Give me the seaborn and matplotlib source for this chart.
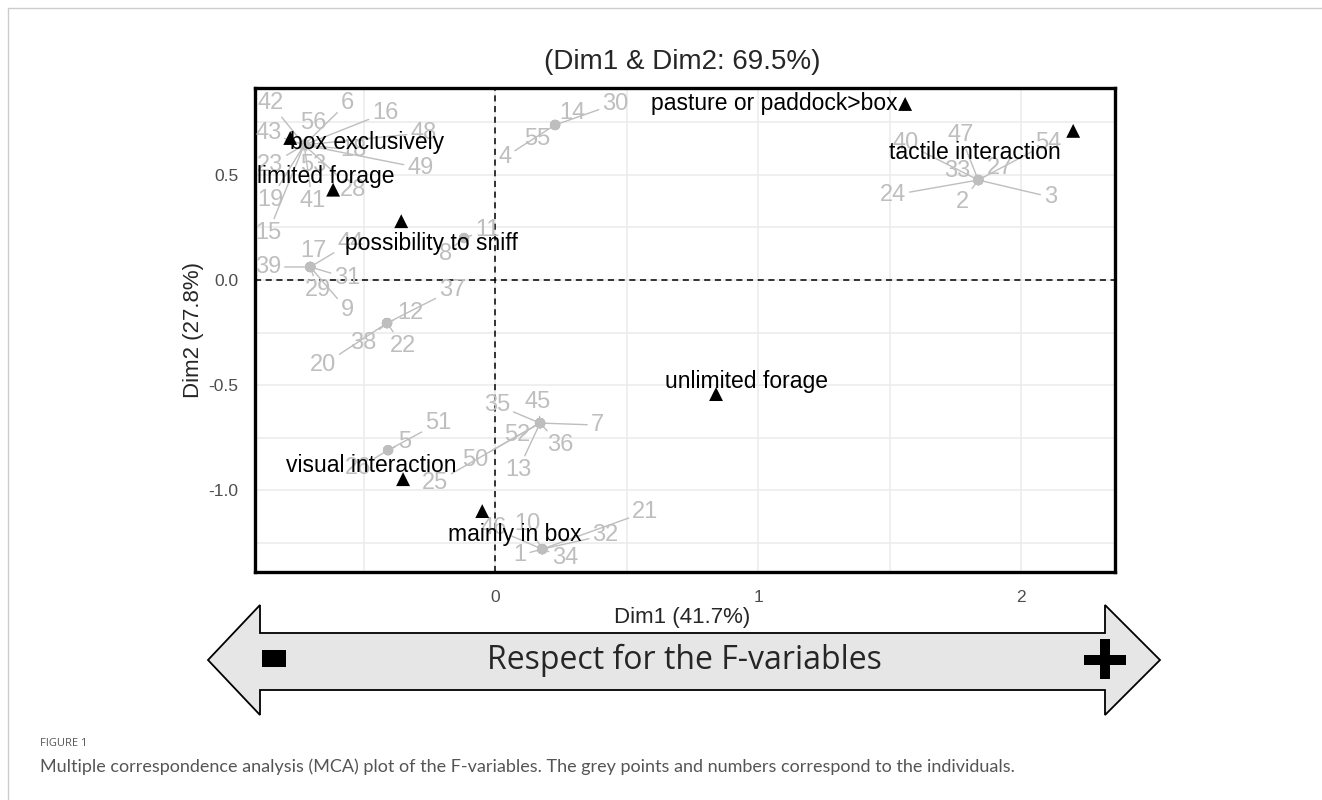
import numpy as np
import pandas as pd
import matplotlib
matplotlib.use("Agg")
import matplotlib.pyplot as plt
import seaborn as sns
from matplotlib.patches import Polygon, Rectangle
from matplotlib.lines import Line2D

# Individuos (coordenadas MCA)
ind_id = ["42", "6", "16", "56", "43", "48", "18", "23", "53", "49", "19", "41", "28", "15",
          "17", "39", "29", "31", "9", "44",
          "11", "8",
          "12", "37", "38", "22", "20",
          "14", "30", "55", "4",
          "40", "47", "33", "27", "54", "24", "2", "3",
          "35", "45", "7", "52", "36", "13", "50", "25",
          "5", "51", "26",
          "10", "46", "32", "21", "1", "34"]
ind_dim1 = [-0.726] * 14 + [-0.703] * 6 + [-0.118] * 2 + [-0.411] * 5 + [0.228] * 4 \
    + [1.837] * 8 + [0.171] * 8 + [-0.407] * 3 + [0.179] * 6
ind_dim2 = [0.643] * 14 + [0.062] * 6 + [0.200] * 2 + [-0.205] * 5 + [0.738] * 4 \
    + [0.476] * 8 + [-0.681] * 8 + [-0.810] * 3 + [-1.281] * 6

# Categorias das variaveis
cat_names = ["box exclusively", "limited forage", "possibility to sniff",
             "pasture or paddock>box", "tactile interaction", "unlimited forage",
             "visual interaction", "mainly in box"]
cat_dim1 = [-0.779, -0.616, -0.357, 1.559, 2.198, 0.840, -0.350, -0.049]
cat_dim2 = [0.676, 0.430, 0.280, 0.838, 0.710, -0.543, -0.948, -1.100]

# deslocamento dos rotulos (pixels), estilo ggrepel
ind_dx = [-34, 43, 81, 9, -36, 119, 49, -34, 9, 116, -34, 8, 49, -36,
          3, -42, 8, 37, 37, 40,
          23, -19,
          23, 65, -24, 16, -64,
          17, 60, -18, -50,
          -73, -18, -21, 22, 70, -85, -16, 72,
          -43, -2, 57, -23, 20, -22, -65, -105,
          17, 50, -30,
          -15, -49, 63, 103, -22, 23]
ind_dy = [42, 42, 32, 22, 12, 12, -5, -20, -20, -23, -55, -56, -45, -88,
          16, 0, -23, -11, -43, 24,
          8, -16,
          10, 33, -20, -23, -42,
          12, 21, -14, -32,
          37, 45, 9, 12, 37, -15, -22, -17,
          18, 21, -2, -12, -22, -47, -37, -60,
          8, 27, -18,
          25, 21, 14, 37, -6, -9]
cat_dx = [77, -7, 30, -131, -98, 30, -32, 33]
cat_dy = [-5, 13, -22, 0, -22, 13, 14, -23]

df_ind = pd.DataFrame({"id": ind_id, "Dim1": ind_dim1, "Dim2": ind_dim2})
df_cat = pd.DataFrame({"cat": cat_names, "Dim1": cat_dim1, "Dim2": cat_dim2})

W, H = 1322, 800
sns.set_theme(style="white")
plt.rcParams["font.family"] = ["Liberation Sans", "DejaVu Sans"]

fig = plt.figure(figsize=(W / 100, H / 100), dpi=100)
fig.patch.set_facecolor("white")

def fx(px):
    return px / W

def fy(py):
    return 1 - py / H

ax = fig.add_axes([fx(255), fy(572), fx(1115) - fx(255), fy(88) - fy(572)])
ax.set_xlim(-0.913, 2.357)
ax.set_ylim(-1.39, 0.914)

# grade
ax.set_xticks([0, 1, 2])
ax.set_xticks([-0.5, 0.5, 1.5], minor=True)
ax.set_yticks([-1.0, -0.5, 0.0, 0.5])
ax.set_yticks([-1.25, -0.75, -0.25, 0.25, 0.75], minor=True)
ax.set_xticklabels(["0", "1", "2"])
ax.set_yticklabels(["-1.0", "-0.5", "0.0", "0.5"])
ax.grid(True, which="both", color="#EBEBEB", lw=1.1)
ax.set_axisbelow(True)
ax.tick_params(which="both", length=0, labelsize=12.5, labelcolor="#4D4D4D")
ax.tick_params(axis="x", pad=13)
ax.tick_params(axis="y", pad=12)
for s in ax.spines.values():
    s.set_color("black")
    s.set_linewidth(2.4)

ax.axhline(0, color="black", ls=(0, (4, 3)), lw=1.1, zorder=2)
ax.axvline(0, color="black", ls=(0, (4, 3)), lw=1.1, zorder=2)

# individuos
sns.scatterplot(data=df_ind, x="Dim1", y="Dim2", color="#BEBEBE", s=55,
                edgecolor="none", ax=ax, zorder=3, legend=False)
for i, row in df_ind.iterrows():
    ax.annotate(row["id"], xy=(row["Dim1"], row["Dim2"]),
                xytext=(ind_dx[i], ind_dy[i]), textcoords="offset pixels",
                ha="center", va="center", color="#BEBEBE", fontsize=17, zorder=4,
                arrowprops=dict(arrowstyle="-", color="#BEBEBE", lw=1,
                                shrinkA=0, shrinkB=0))

# categorias
sns.scatterplot(data=df_cat, x="Dim1", y="Dim2", color="black", marker="^", s=100,
                edgecolor="none", ax=ax, zorder=5, legend=False)
for i, row in df_cat.iterrows():
    ax.annotate(row["cat"], xy=(row["Dim1"], row["Dim2"]),
                xytext=(cat_dx[i], cat_dy[i]), textcoords="offset pixels",
                ha="center", va="center", color="black", fontsize=16.5, zorder=6)

ax.set_xlabel("")
ax.set_ylabel("")
fig.text(fx(682), fy(617), "Dim1 (41.7%)", ha="center", va="center", fontsize=16)
fig.text(fx(193), fy(330), "Dim2 (27.8%)", ha="center", va="center", fontsize=16,
         rotation=90)
fig.text(fx(682), fy(62), "(Dim1 & Dim2: 69.5%)", ha="center", va="center", fontsize=20)

# seta dupla
seta = [(208, 660), (260, 605), (260, 633), (1105, 633), (1105, 605), (1160, 660),
        (1105, 715), (1105, 690), (260, 690), (260, 715)]
fig.patches.append(Polygon([(fx(a), fy(b)) for a, b in seta], closed=True,
                           facecolor="#E6E6E6", edgecolor="black", lw=1.3,
                           transform=fig.transFigure, figure=fig))
fig.patches.append(Rectangle((fx(262), fy(667)), fx(24), 17 / H, facecolor="black",
                             edgecolor="none", transform=fig.transFigure, figure=fig))
fig.patches.append(Rectangle((fx(1084), fy(665)), fx(42), 10 / H, facecolor="black",
                             edgecolor="none", transform=fig.transFigure, figure=fig))
fig.patches.append(Rectangle((fx(1100), fy(679)), fx(10), 40 / H, facecolor="black",
                             edgecolor="none", transform=fig.transFigure, figure=fig))
fig.text(fx(684), fy(660), "Respect for the F-variables", ha="center", va="center",
         fontsize=23, family=["Open Sans", "DejaVu Sans"])

# legenda da figura
fig.text(fx(40), fy(743), "FIGURE 1", ha="left", va="center", fontsize=8,
         color="#555555", family=["Open Sans", "DejaVu Sans"])
fig.text(fx(40), fy(767),
         "Multiple correspondence analysis (MCA) plot of the F-variables. The grey points and numbers correspond to the individuals.",
         ha="left", va="center", fontsize=13, color="#555555", family=["Lato", "DejaVu Sans"])

# moldura da pagina
fig.lines.append(Line2D([fx(8), 1], [fy(8), fy(8)], color="#CCCCCC", lw=1,
                        transform=fig.transFigure, figure=fig))
fig.lines.append(Line2D([fx(8), fx(8)], [0, fy(8)], color="#CCCCCC", lw=1,
                        transform=fig.transFigure, figure=fig))

plt.savefig("out.png", dpi=100)
